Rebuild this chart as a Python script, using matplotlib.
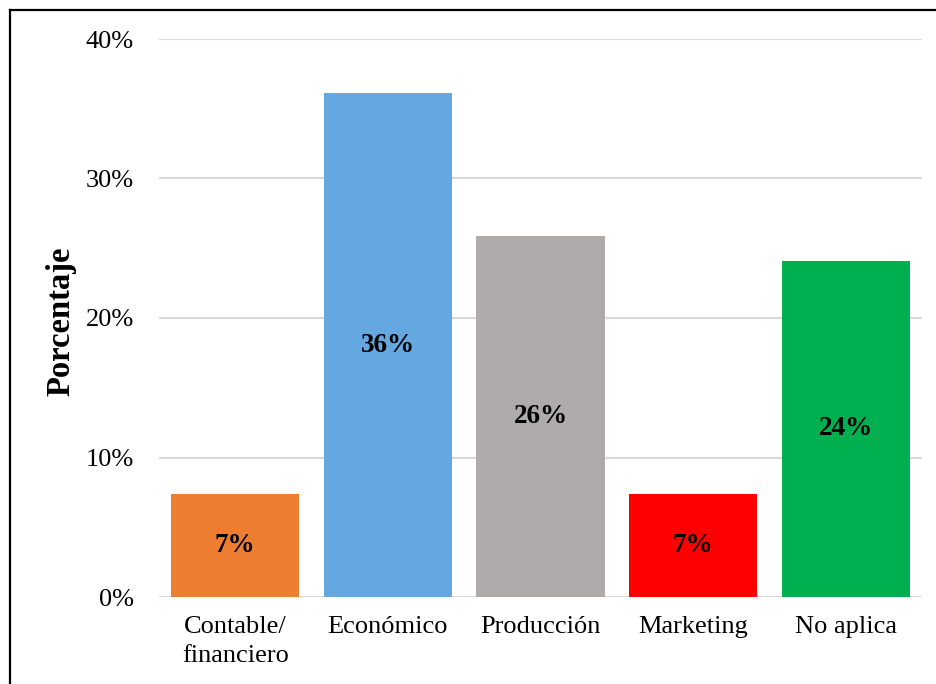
import matplotlib
matplotlib.use("Agg")
import matplotlib.pyplot as plt
from matplotlib.lines import Line2D
from matplotlib.ticker import FuncFormatter

categories = ["Contable/\nfinanciero", "Económico", "Producción", "Marketing", "No aplica"]
values = [7.4, 36.1, 25.9, 7.4, 24.1]
labels = ["7%", "36%", "26%", "7%", "24%"]
colors = ["#ED7D31", "#65A7E1", "#AFABAB", "#FF0000", "#00B050"]
yticks = [0, 10, 20, 30, 40]

plt.rcParams['font.family'] = ['Liberation Serif', 'DejaVu Serif']

fig = plt.figure(figsize=(9.37, 6.84), dpi=100)
ax = fig.add_axes([159/937, 1-597/684, (922-159)/937, (597-39)/684])

x = list(range(len(categories)))
ax.bar(x, values, width=0.84, color=colors, zorder=2)
for xi, v, lab in zip(x, values, labels):
    ax.text(xi, v/2, lab, ha='center', va='center', fontsize=19.5,
            fontweight='bold', color='black', zorder=3)

ax.set_xlim(-0.5, len(categories)-0.5)
ax.set_ylim(0, 40)
ax.set_yticks(yticks)
ax.yaxis.set_major_formatter(FuncFormatter(lambda v, p: f"{int(v)}%"))
ax.set_xticks(x)
ax.set_xticklabels(categories, fontsize=19, linespacing=1.4, va='top')
ax.tick_params(axis='y', labelsize=19, length=0, pad=18)
ax.tick_params(axis='x', length=0, pad=14)
ax.grid(axis='y', color='#D9D9D9', linewidth=1.5, zorder=0)
for s in ax.spines.values():
    s.set_visible(False)

fig.text(61/937, 1-321/684, "Porcentaje", rotation=90, ha='center', va='center',
         fontsize=23.5, fontweight='bold')

# outer frame (left and top edges visible)
fig.add_artist(Line2D([10/937, 10/937], [0, 1-10/684], color='black', linewidth=1.6,
                      transform=fig.transFigure))
fig.add_artist(Line2D([10/937, 1], [1-10/684, 1-10/684], color='black', linewidth=1.6,
                      transform=fig.transFigure))

fig.savefig("out.png", dpi=100)
